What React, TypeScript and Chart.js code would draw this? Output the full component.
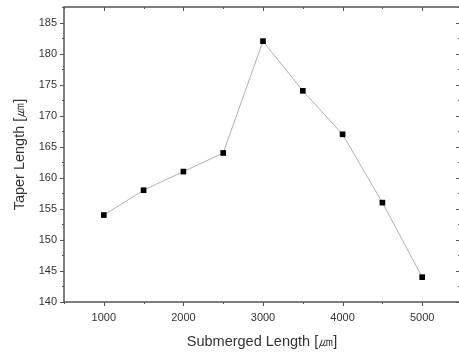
import React, { useEffect, useRef } from "react";
import { Chart, registerables } from "chart.js";

Chart.register(...registerables);

const submergedLength = [1000, 1500, 2000, 2500, 3000, 3500, 4000, 4500, 5000];
const taperLength = [154, 158, 161, 164, 182, 174, 167, 156, 144];
const xTickLabels = [1000, 2000, 3000, 4000, 5000];
const yTickLabels = [140, 145, 150, 155, 160, 165, 170, 175, 180, 185];
const xMinorTicks = [500, 1500, 2500, 3500, 4500];
const yMinorTicks = [142.5, 147.5, 152.5, 157.5, 162.5, 167.5, 172.5, 177.5, 182.5, 187.5];

const frameColor = "#555555";

const framePlugin = {
  id: "frame",
  afterDraw(chart: any) {
    const { ctx, chartArea, scales } = chart;
    const { left, right, top, bottom } = chartArea;
    const xs = scales.x;
    const ys = scales.y;
    ctx.save();
    ctx.strokeStyle = frameColor;
    ctx.lineWidth = 1;
    ctx.beginPath();
    xTickLabels.forEach((v) => {
      const px = Math.round(xs.getPixelForValue(v)) + 0.5;
      ctx.moveTo(px, bottom);
      ctx.lineTo(px, bottom + 4);
      ctx.moveTo(px, top);
      ctx.lineTo(px, top + 4);
    });
    xMinorTicks.forEach((v) => {
      const px = Math.round(xs.getPixelForValue(v)) + 0.5;
      ctx.moveTo(px, bottom);
      ctx.lineTo(px, bottom + 2);
      ctx.moveTo(px, top);
      ctx.lineTo(px, top + 2);
    });
    yTickLabels.forEach((v) => {
      const py = Math.round(ys.getPixelForValue(v)) + 0.5;
      ctx.moveTo(left, py);
      ctx.lineTo(left - 4, py);
      ctx.moveTo(right, py);
      ctx.lineTo(right - 4, py);
    });
    yMinorTicks.forEach((v) => {
      const py = Math.round(ys.getPixelForValue(v)) + 0.5;
      ctx.moveTo(left, py);
      ctx.lineTo(left - 2, py);
      ctx.moveTo(right, py);
      ctx.lineTo(right - 2, py);
    });
    ctx.stroke();
    ctx.lineWidth = 1.5;
    ctx.strokeRect(left, top, right - left, bottom - top);
    ctx.restore();
  },
};

export default function App() {
  const ref = useRef<HTMLCanvasElement | null>(null);
  useEffect(() => {
    document.body.style.margin = "0";
    const canvas = ref.current!;
    const chart = new Chart(canvas, {
      type: "line",
      data: {
        datasets: [
          {
            data: submergedLength.map((x, i) => ({ x, y: taperLength[i] })),
            borderColor: "#b0b0b0",
            borderWidth: 1,
            pointStyle: "rect",
            pointRadius: 4,
            pointBackgroundColor: "#000000",
            pointBorderColor: "#000000",
            pointBorderWidth: 0,
            tension: 0,
          },
        ],
      },
      options: {
        responsive: false,
        animation: false,
        events: [],
        layout: { autoPadding: false, padding: { top: 7, right: 4, left: 0, bottom: 0 } },
        plugins: { legend: { display: false }, tooltip: { enabled: false } },
        scales: {
          x: {
            type: "linear",
            min: 500,
            max: 5475,
            afterBuildTicks: (s: any) => {
              s.ticks = xTickLabels.map((v) => ({ value: v }));
            },
            afterFit: (s: any) => {
              s.height = 50;
              s.paddingLeft = 0;
              s.paddingRight = 0;
            },
            grid: { display: false, drawTicks: false },
            border: { display: false },
            ticks: {
              padding: 9,
              maxRotation: 0,
              color: "#333333",
              font: { family: "Liberation Sans", size: 11 },
              callback: (v: any) => String(v),
            },
            title: {
              display: true,
              text: "Submerged Length [㎛]",
              color: "#333333",
              font: { family: "Liberation Sans", size: 14.5 },
              padding: { top: 2, bottom: 1 },
            },
          },
          y: {
            type: "linear",
            min: 140,
            max: 187.5,
            afterBuildTicks: (s: any) => {
              s.ticks = yTickLabels.map((v) => ({ value: v }));
            },
            afterFit: (s: any) => {
              s.width = 64;
              s.paddingTop = 0;
              s.paddingBottom = 0;
            },
            grid: { display: false, drawTicks: false },
            border: { display: false },
            ticks: {
              padding: 7,
              color: "#333333",
              font: { family: "Liberation Sans", size: 11 },
              callback: (v: any) => String(v),
            },
            title: {
              display: true,
              text: "Taper Length [㎛]",
              color: "#333333",
              font: { family: "Liberation Sans", size: 14.5 },
              padding: { top: 11, bottom: 2 },
            },
          },
        },
      },
      plugins: [framePlugin],
    } as any);
    return () => chart.destroy();
  }, []);
  return (
    <div style={{ width: 459, height: 352, overflow: "hidden" }}>
      <canvas ref={ref} width={464} height={352} style={{ display: "block" }} />
    </div>
  );
}
